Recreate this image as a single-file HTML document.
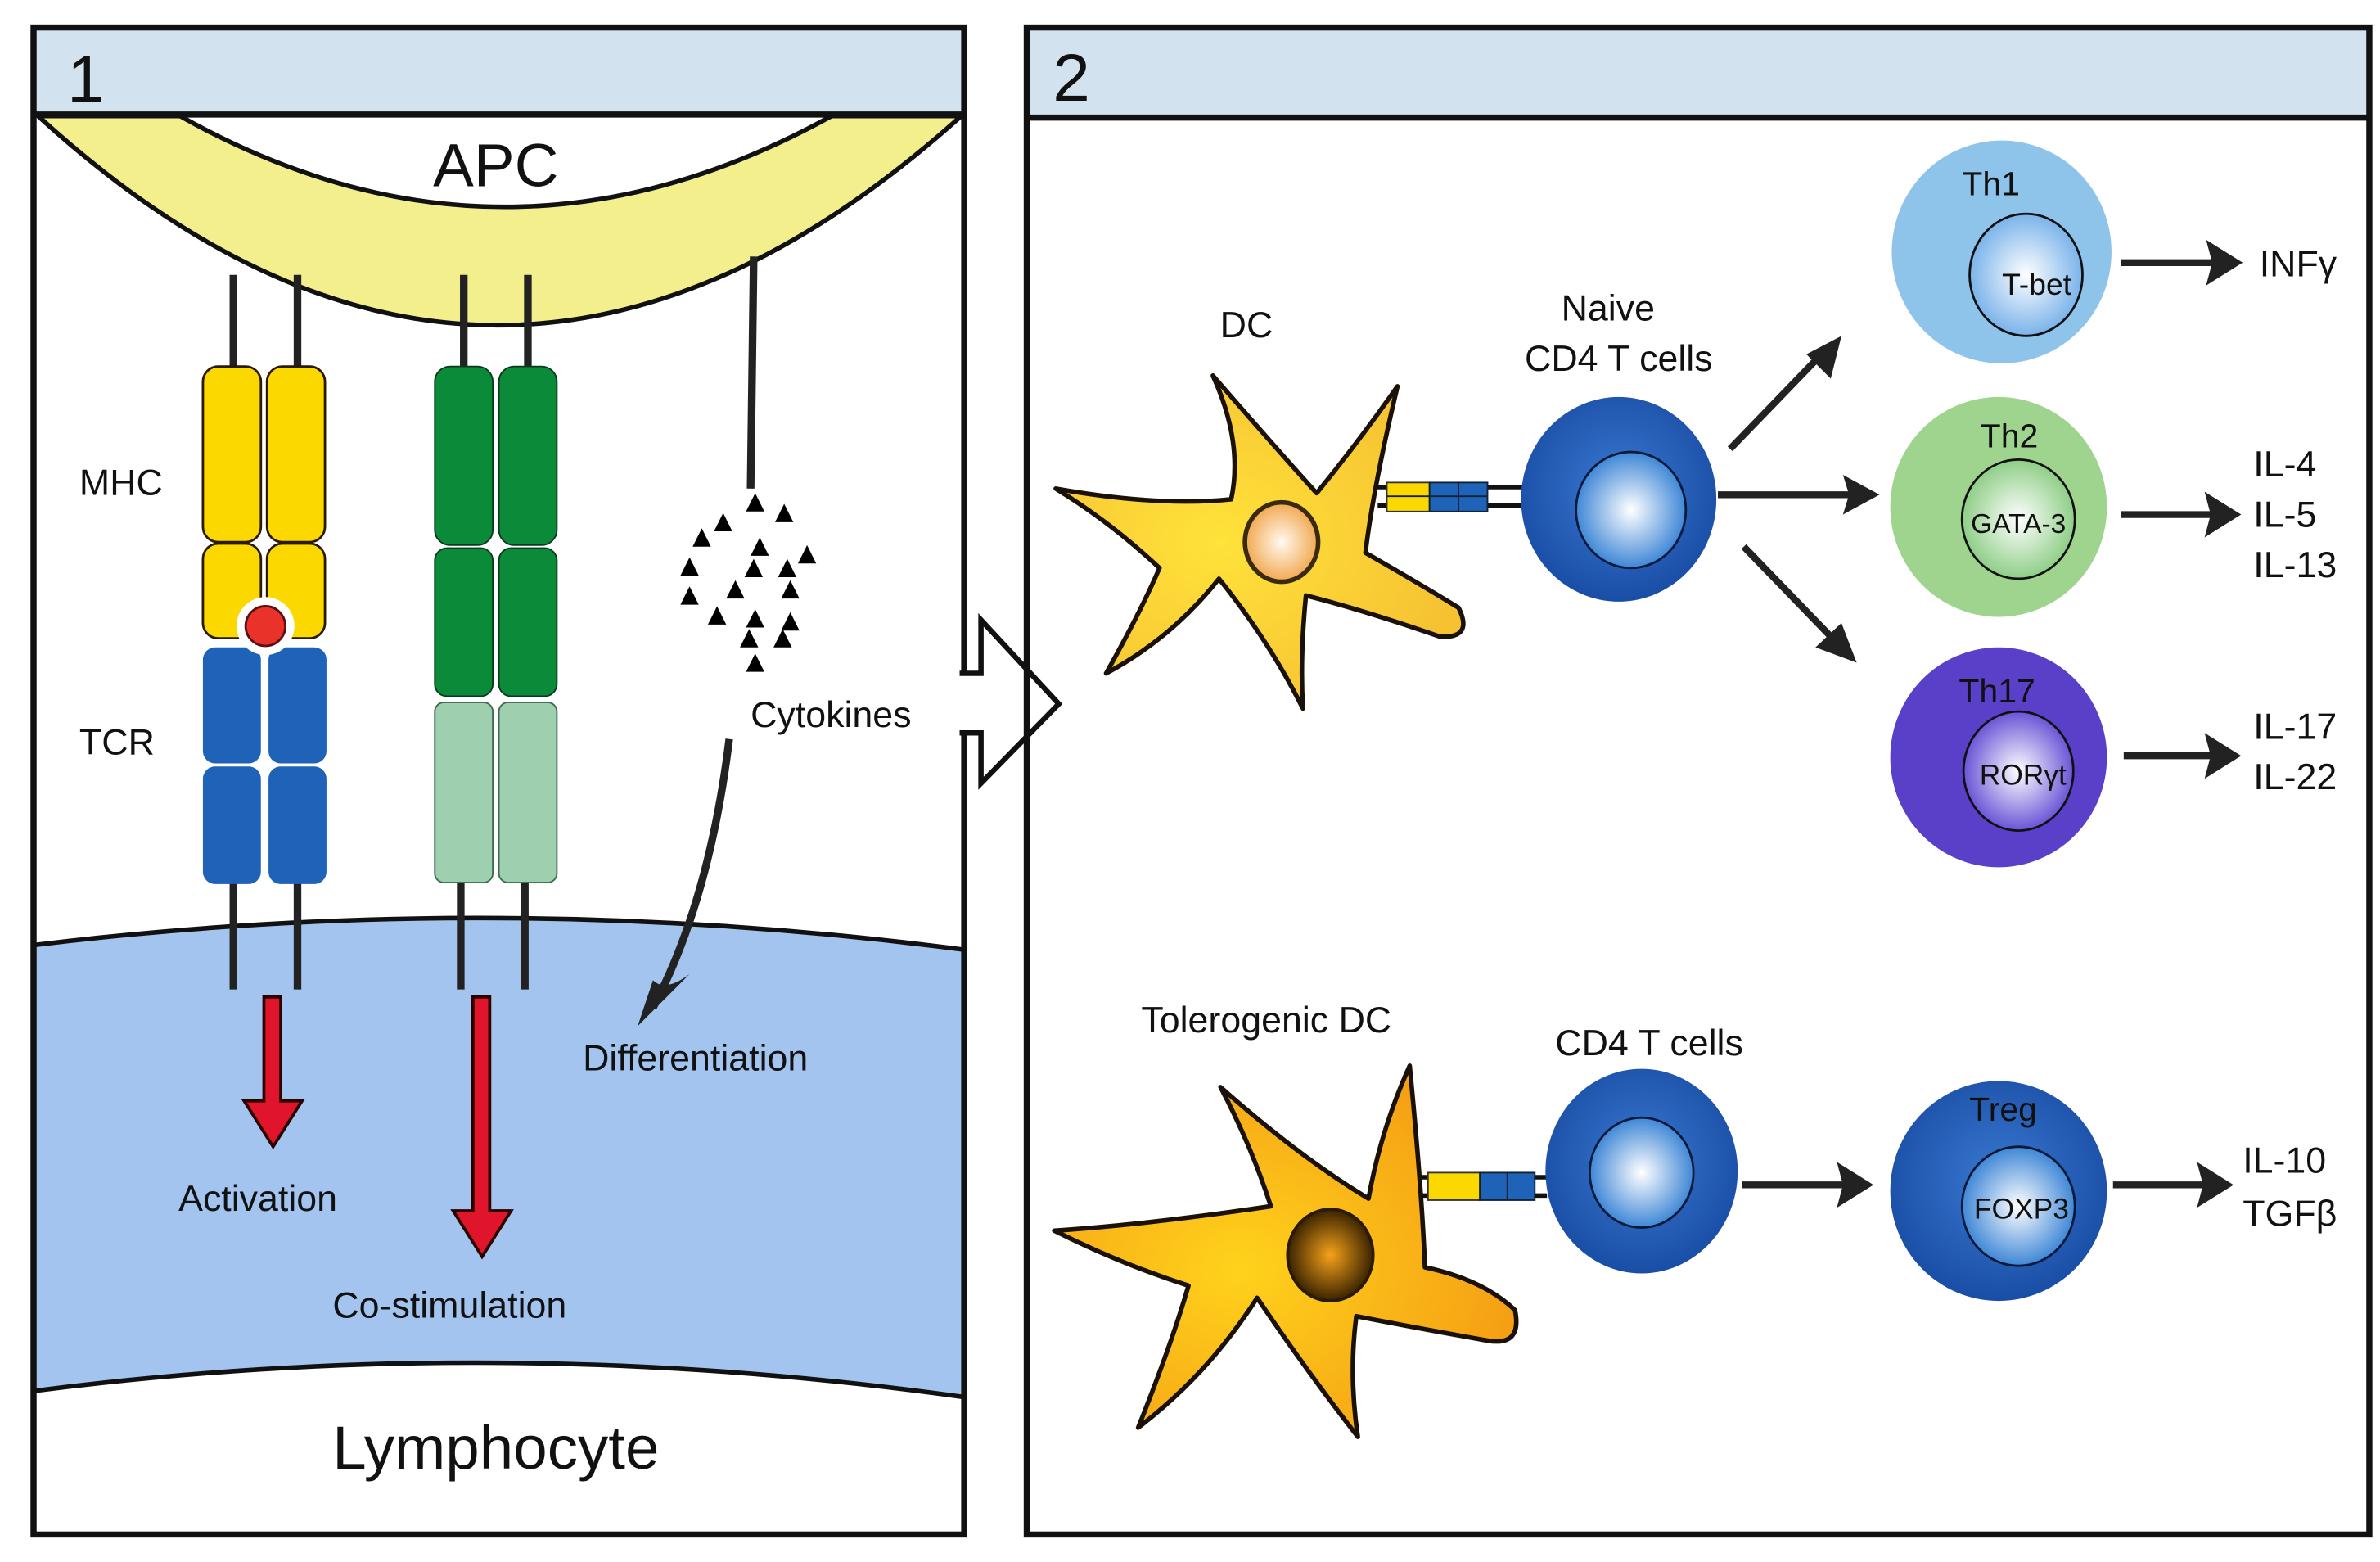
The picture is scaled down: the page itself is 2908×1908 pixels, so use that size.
<!DOCTYPE html>
<html><head><meta charset="utf-8"><style>
html,body{margin:0;padding:0;background:#fff;}
svg{display:block;}
text{font-family:"Liberation Sans",Arial,sans-serif;fill:#111;}
</style></head><body>
<svg width="2908" height="1908" viewBox="0 0 1560 1023" preserveAspectRatio="none" xmlns="http://www.w3.org/2000/svg">
<defs>
<radialGradient id="gBlue" cx="0.5" cy="0.45" r="0.55"><stop offset="0" stop-color="#3a78d0"/><stop offset="1" stop-color="#1a4ea6"/></radialGradient>
<radialGradient id="gIn" cx="0.5" cy="0.5" r="0.5"><stop offset="0" stop-color="#ffffff"/><stop offset="1" stop-color="#3f87d6"/></radialGradient>
<radialGradient id="gTh1" cx="0.5" cy="0.5" r="0.5"><stop offset="0" stop-color="#ffffff"/><stop offset="1" stop-color="#7ab3ea"/></radialGradient>
<radialGradient id="gTh2" cx="0.5" cy="0.5" r="0.5"><stop offset="0" stop-color="#ffffff"/><stop offset="1" stop-color="#8fce87"/></radialGradient>
<radialGradient id="gTh17" cx="0.5" cy="0.5" r="0.5"><stop offset="0" stop-color="#ffffff"/><stop offset="1" stop-color="#6a54d6"/></radialGradient>
<radialGradient id="gNuc1" cx="0.5" cy="0.5" r="0.5"><stop offset="0" stop-color="#fffaf0"/><stop offset="1" stop-color="#f2a850"/></radialGradient>
<radialGradient id="gNuc2" cx="0.5" cy="0.5" r="0.5"><stop offset="0" stop-color="#f5a21a"/><stop offset="1" stop-color="#3a2300"/></radialGradient>
<radialGradient id="gStar1" cx="0.4" cy="0.5" r="0.6"><stop offset="0" stop-color="#ffe23a"/><stop offset="1" stop-color="#f6c232"/></radialGradient>
<radialGradient id="gStar2" cx="0.4" cy="0.55" r="0.6"><stop offset="0" stop-color="#ffd21c"/><stop offset="1" stop-color="#f5a014"/></radialGradient>
</defs>

<!-- PANEL 1 -->
<rect x="22" y="18" width="610" height="57" fill="#d3e2ef"/>
<path d="M22,619 Q325,582 632,622 L632,915 Q325,872 22,911 Z" fill="#a3c4ee"/>
<path d="M22,619 Q325,582 632,622" fill="none" stroke="#111" stroke-width="3"/>
<path d="M22,911 Q325,872 632,915" fill="none" stroke="#111" stroke-width="3"/>
<path d="M25,76 Q325,350 630,76 L545,76 Q330,195 118,76 Z" fill="#f2ef8c" stroke="#111" stroke-width="3"/>
<rect x="22" y="18" width="610" height="987" fill="none" stroke="#111" stroke-width="4"/>
<line x1="22" y1="75" x2="632" y2="75" stroke="#111" stroke-width="4"/>
<text x="44" y="67" font-size="44">1</text>
<text x="325" y="122" font-size="40" text-anchor="middle">APC</text>
<text x="325" y="962" font-size="40" text-anchor="middle">Lymphocyte</text>

<!-- stems -->
<g stroke="#222" stroke-width="5">
<line x1="153" y1="180" x2="153" y2="242"/><line x1="195" y1="180" x2="195" y2="242"/>
<line x1="304" y1="180" x2="304" y2="242"/><line x1="346" y1="180" x2="346" y2="242"/>
<line x1="153" y1="578" x2="153" y2="648"/><line x1="195" y1="578" x2="195" y2="648"/>
<line x1="302" y1="576" x2="302" y2="648"/><line x1="344" y1="576" x2="344" y2="648"/>
<line x1="494" y1="168" x2="492" y2="320"/>
</g>
<!-- MHC -->
<g stroke="#2a1a00" stroke-width="1.5" fill="#fbd800">
<rect x="133" y="240" width="38" height="115" rx="10"/>
<rect x="175" y="240" width="38" height="115" rx="10"/>
<rect x="133" y="356" width="38" height="62" rx="10"/>
<rect x="175" y="356" width="38" height="62" rx="10"/>
</g>
<g fill="#1e63b8">
<rect x="133" y="424" width="38" height="76" rx="8"/>
<rect x="176" y="424" width="38" height="76" rx="8"/>
<rect x="133" y="502" width="38" height="77" rx="8"/>
<rect x="176" y="502" width="38" height="77" rx="8"/>
</g>
<circle cx="174" cy="410" r="19" fill="#fff"/>
<circle cx="174" cy="410" r="13" fill="#e8322a" stroke="#5a1010" stroke-width="1.5"/>
<!-- co-stim -->
<g fill="#0b8a3a" stroke="#0a3a1a" stroke-width="1">
<rect x="285" y="240" width="38" height="117" rx="10"/>
<rect x="327" y="240" width="38" height="117" rx="10"/>
<rect x="285" y="359" width="38" height="97" rx="8"/>
<rect x="327" y="359" width="38" height="97" rx="8"/>
</g>
<g fill="#9ed0b0" stroke="#3a6a4a" stroke-width="1">
<rect x="285" y="460" width="38" height="118" rx="6"/>
<rect x="327" y="460" width="38" height="118" rx="6"/>
</g>
<!-- cytokines -->
<g fill="#000">
<path d="M495,323 l6,12 h-12z"/><path d="M514,330 l6,12 h-12z"/><path d="M474,336 l6,12 h-12z"/>
<path d="M460,346 l6,12 h-12z"/><path d="M498,352 l6,12 h-12z"/><path d="M529,357 l6,12 h-12z"/>
<path d="M452,365 l6,12 h-12z"/><path d="M494,366 l6,12 h-12z"/><path d="M516,366 l6,12 h-12z"/>
<path d="M482,380 l6,12 h-12z"/><path d="M518,380 l6,12 h-12z"/><path d="M452,384 l6,12 h-12z"/>
<path d="M470,397 l6,12 h-12z"/><path d="M495,399 l6,12 h-12z"/><path d="M518,401 l6,12 h-12z"/>
<path d="M491,412 l6,12 h-12z"/><path d="M513,412 l6,12 h-12z"/>
<path d="M495,428 l6,12 h-12z"/>
</g>
<path d="M478,484 Q465,590 428,660" fill="none" stroke="#222" stroke-width="5"/>
<path d="M418,672 L428,642 Q436,650 452,638 Z" fill="#222"/>
<!-- red arrows -->
<path d="M173,653 h11 v68 h14 l-19,30 l-19,-30 h13 z" fill="#e0142b" stroke="#2a0000" stroke-width="2"/>
<path d="M310,653 h11 v140 h14 l-19,30 l-19,-30 h13 z" fill="#e0142b" stroke="#2a0000" stroke-width="2"/>
<g font-size="24">
<text x="52" y="324">MHC</text>
<text x="52" y="494">TCR</text>
<text x="492" y="476">Cytokines</text>
<text x="382" y="701">Differentiation</text>
<text x="117" y="793">Activation</text>
<text x="218" y="863">Co-stimulation</text>
</g>

<!-- big hollow arrow -->
<path d="M629,441 H643 V406 L694,461 L643,513 V480 H629" fill="#fff" stroke="#111" stroke-width="3.5"/>

<!-- PANEL 2 -->
<rect x="673" y="18" width="880" height="59" fill="#d3e2ef"/>
<rect x="673" y="18" width="880" height="987" fill="none" stroke="#111" stroke-width="4"/>
<line x1="673" y1="77" x2="1553" y2="77" stroke="#111" stroke-width="4"/>
<text x="690" y="66" font-size="44">2</text>

<!-- DC -->
<path d="M692,320 Q760,332 807,327 Q815,290 795,246 Q835,292 863,323 Q890,290 916,253 Q900,320 895,362 Q930,382 956,398 Q966,418 944,417 Q895,400 856,390 Q852,430 854,464 Q832,420 799,379 Q768,418 725,441 Q748,400 760,372 Q728,342 692,320 Z" fill="url(#gStar1)" stroke="#1a1208" stroke-width="3" stroke-linejoin="round"/>
<ellipse cx="840" cy="355" rx="24" ry="26" fill="url(#gNuc1)" stroke="#3a2a10" stroke-width="3"/>
<line x1="903" y1="319" x2="998" y2="319" stroke="#111" stroke-width="3"/>
<line x1="903" y1="331" x2="998" y2="331" stroke="#111" stroke-width="3"/>
<rect x="909" y="316" width="28" height="19" fill="#fbd800" stroke="#333" stroke-width="1"/>
<rect x="937" y="316" width="38" height="19" fill="#1e63b8" stroke="#123" stroke-width="1"/>
<line x1="956" y1="316" x2="956" y2="335" stroke="#123" stroke-width="1"/>
<line x1="909" y1="325" x2="975" y2="325" stroke="#123" stroke-width="1"/>

<ellipse cx="1061" cy="327" rx="64" ry="67" fill="url(#gBlue)"/>
<ellipse cx="1069" cy="334" rx="36" ry="38" fill="url(#gIn)" stroke="#0a1a3a" stroke-width="1.5"/>
<g font-size="24">
<text x="817" y="221" text-anchor="middle">DC</text>
<text x="1054" y="210" text-anchor="middle">Naive</text>
<text x="1061" y="243" text-anchor="middle">CD4 T cells</text>
</g>

<!-- arrows from naive -->
<g stroke="#222" stroke-width="4.5">
<line x1="1134" y1="294" x2="1192" y2="234"/>
<line x1="1126" y1="324" x2="1212" y2="324"/>
<line x1="1143" y1="358" x2="1203" y2="420"/>
<line x1="1390" y1="172" x2="1450" y2="172"/>
<line x1="1390" y1="337" x2="1450" y2="337"/>
<line x1="1392" y1="495" x2="1450" y2="495"/>
<line x1="1142" y1="776" x2="1210" y2="776"/>
<line x1="1385" y1="776" x2="1446" y2="776"/>
</g>
<g fill="#222">
<path d="M1207,220 L1200,248 L1184,232 Z"/>
<path d="M1232,324 L1208,311 L1212,324 L1208,337 Z"/>
<path d="M1217,434 L1190,424 L1207,408 Z"/>
<path d="M1470,172 L1446,157 L1450,172 L1446,187 Z"/>
<path d="M1469,337 L1445,322 L1449,337 L1445,352 Z"/>
<path d="M1469,495 L1445,480 L1449,495 L1445,510 Z"/>
<path d="M1228,776 L1204,761 L1208,776 L1204,791 Z"/>
<path d="M1464,776 L1440,761 L1444,776 L1440,791 Z"/>
</g>

<!-- Th cells -->
<ellipse cx="1312" cy="165" rx="72" ry="73" fill="#8ec3ea"/>
<ellipse cx="1328" cy="180" rx="37" ry="40" fill="url(#gTh1)" stroke="#111" stroke-width="1.5"/>
<ellipse cx="1310" cy="332" rx="71" ry="72" fill="#9ed48e"/>
<ellipse cx="1323" cy="340" rx="37" ry="39" fill="url(#gTh2)" stroke="#111" stroke-width="1.5"/>
<ellipse cx="1310" cy="496" rx="71" ry="72" fill="#5a3fc8"/>
<ellipse cx="1323" cy="505" rx="36" ry="39" fill="url(#gTh17)" stroke="#111" stroke-width="1.5"/>
<g font-size="22">
<text x="1305" y="128" text-anchor="middle">Th1</text>
<text x="1335" y="193" text-anchor="middle" font-size="20">T-bet</text>
<text x="1317" y="293" text-anchor="middle">Th2</text>
<text x="1323" y="349" text-anchor="middle" font-size="18">GATA-3</text>
<text x="1309" y="460" text-anchor="middle">Th17</text>
<text x="1326" y="514" text-anchor="middle" font-size="19">RORγt</text>
</g>
<g font-size="24">
<text x="1481" y="181">INFγ</text>
<text x="1477" y="312">IL-4</text>
<text x="1477" y="345">IL-5</text>
<text x="1477" y="378">IL-13</text>
<text x="1477" y="484">IL-17</text>
<text x="1477" y="517">IL-22</text>
<text x="748" y="676">Tolerogenic DC</text>
<text x="1081" y="691" text-anchor="middle">CD4 T cells</text>
<text x="1470" y="768">IL-10</text>
<text x="1470" y="803">TGFβ</text>
</g>

<!-- Tolerogenic DC -->
<path d="M691,806 Q752,802 833,790 Q820,750 800,712 Q852,758 897,785 Q905,740 924,698 Q932,780 934,830 Q972,838 993,858 Q998,882 975,878 Q930,870 889,862 Q884,900 890,941 Q858,900 824,850 Q792,900 746,935 Q768,880 779,842 Q735,828 691,806 Z" fill="url(#gStar2)" stroke="#1a1208" stroke-width="3" stroke-linejoin="round"/>
<ellipse cx="872" cy="822" rx="28" ry="30" fill="url(#gNuc2)" stroke="#2a1a00" stroke-width="2"/>
<line x1="932" y1="771" x2="1014" y2="771" stroke="#111" stroke-width="3"/>
<line x1="932" y1="783" x2="1014" y2="783" stroke="#111" stroke-width="3"/>
<rect x="936" y="768" width="34" height="18" fill="#fbd800" stroke="#333" stroke-width="1"/>
<rect x="970" y="768" width="36" height="18" fill="#1e63b8" stroke="#123" stroke-width="1"/>
<line x1="988" y1="768" x2="988" y2="786" stroke="#123" stroke-width="1"/>

<ellipse cx="1076" cy="767" rx="63" ry="67" fill="url(#gBlue)"/>
<ellipse cx="1076" cy="768" rx="34" ry="36" fill="url(#gIn)" stroke="#0a1a3a" stroke-width="1.5"/>
<ellipse cx="1310" cy="780" rx="71" ry="72" fill="url(#gBlue)"/>
<ellipse cx="1323" cy="790" rx="37" ry="39" fill="url(#gIn)" stroke="#0a1a3a" stroke-width="1.5"/>
<text x="1313" y="734" font-size="22" text-anchor="middle">Treg</text>
<text x="1325" y="798" font-size="19" text-anchor="middle">FOXP3</text>
</svg>
</body></html>
